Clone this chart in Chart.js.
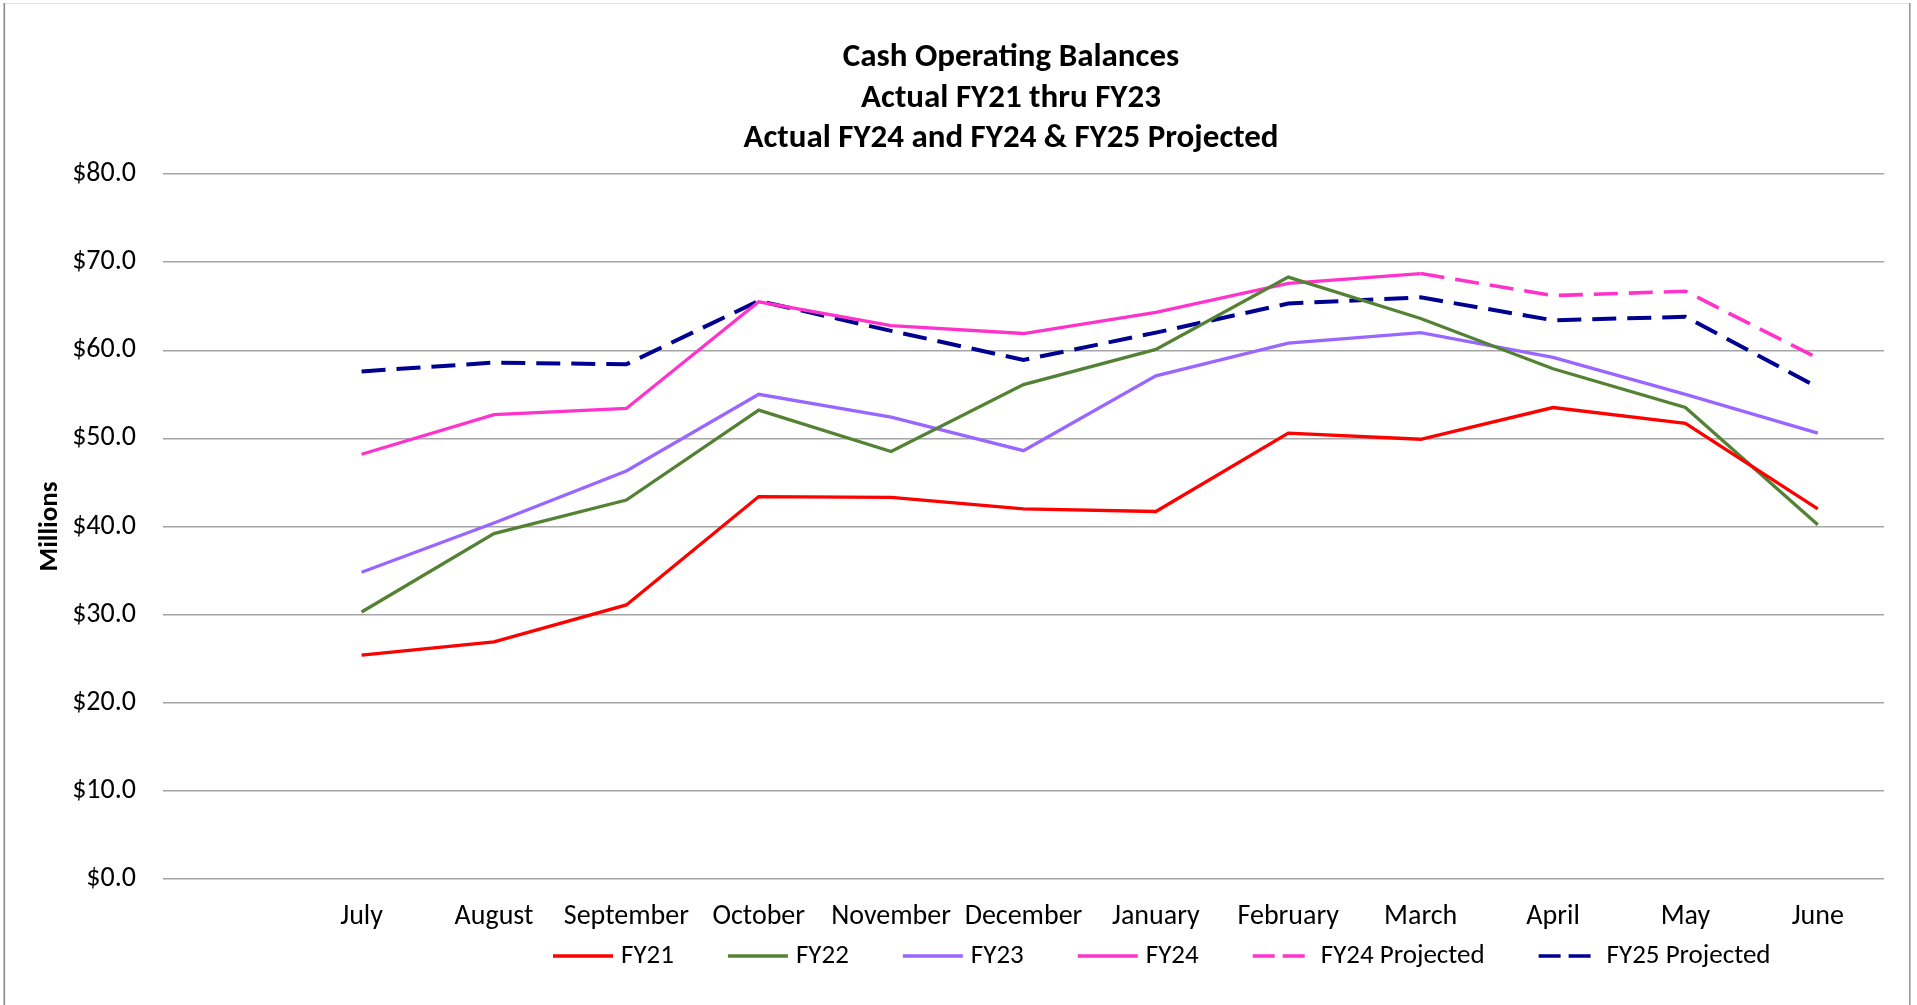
<!DOCTYPE html>
<html><head><meta charset="utf-8">
<script src="https://cdn.jsdelivr.net/npm/chart.js@4/dist/chart.umd.min.js"></script>
<style>html,body{margin:0;padding:0;background:#fff;overflow:hidden}#wrap{width:1917px;height:1005px;position:relative}</style>
</head><body><div id="wrap"><canvas id="c" width="1917" height="1005"></canvas></div>
<script>
// Categories (leading blank category as in the source sheet)
const months = ['', 'July', 'August', 'September', 'October', 'November', 'December', 'January', 'February', 'March', 'April', 'May', 'June'];
// Series values, $ millions
const fy21  = [null, 25.4, 26.9, 31.1, 43.4, 43.3, 42.0, 41.7, 50.6, 49.9, 53.5, 51.7, 42.0];
const fy22  = [null, 30.3, 39.2, 43.0, 53.2, 48.5, 56.1, 60.1, 68.3, 63.6, 57.9, 53.5, 40.2];
const fy23  = [null, 34.8, 40.4, 46.3, 55.0, 52.4, 48.6, 57.1, 60.8, 62.0, 59.2, 55.0, 50.6];
const fy24  = [null, 48.2, 52.7, 53.4, 65.5, 62.8, 61.9, 64.3, 67.6, 68.7, null, null, null];
const fy24p = [null, null, null, null, null, null, null, null, null, 68.7, 66.2, 66.7, 59.1];
const fy25p = [null, 57.6, 58.6, 58.4, 65.6, 62.2, 58.9, 62.0, 65.3, 66.0, 63.4, 63.8, 55.8];
const seriesNames = ['FY21', 'FY22', 'FY23', 'FY24', 'FY24 Projected', 'FY25 Projected'];
const titleLines = ['Cash Operating Balances', 'Actual FY21 thru FY23', 'Actual FY24 and FY24 & FY25 Projected'];
const yTitle = 'Millions';
const yMin = 0, yMax = 80, yStep = 10;

const FONT = 'Carlito, Lato, "Open Sans", sans-serif';
const colors = ['#ff0000', '#548235', '#9966ff', '#ff33cc', '#ff33cc', '#000090'];
const widths = [3.3, 3.3, 3.3, 3.3, 3.6, 4];
const dashes = [[], [], [], [], [24, 11], [24, 11]];
const allData = [fy21, fy22, fy23, fy24, fy24p, fy25p];

const deco = {
  id: 'deco',
  beforeDraw(chart) {
    const ctx = chart.ctx;
    ctx.save();
    ctx.fillStyle = '#fff';
    ctx.fillRect(0, 0, chart.width, chart.height);
    ctx.fillStyle = '#e3e3e3';
    ctx.fillRect(4, 3, 1906, 1);
    ctx.fillStyle = '#8a8a8a';
    ctx.fillRect(3.5, 3, 1.6, chart.height);
    ctx.fillStyle = '#9a9a9a';
    ctx.fillRect(1909, 3, 1.6, chart.height);
    ctx.restore();
  },
  afterDraw(chart) {
    const ctx = chart.ctx;
    ctx.save();
    // title
    ctx.fillStyle = '#000';
    ctx.font = 'bold 33px ' + FONT;
    ctx.textAlign = 'center';
    ctx.textBaseline = 'middle';
    const tx = 1011;
    titleLines.forEach((t, i) => ctx.fillText(t, tx, 58 + i * 40.5));
    // legend
    ctx.font = '27px ' + FONT;
    ctx.textAlign = 'left';
    let x = 553;
    const ly = 956;
    chart.data.datasets.forEach((ds, i) => {
      ctx.strokeStyle = ds.borderColor;
      ctx.lineWidth = 3.3;
      ctx.setLineDash(i >= 4 ? [22, 8] : []);
      ctx.beginPath();
      ctx.moveTo(x, ly);
      ctx.lineTo(x + 60, ly);
      ctx.stroke();
      ctx.setLineDash([]);
      ctx.fillStyle = '#000';
      ctx.fillText(ds.label, x + 68, ly);
      x += 68 + ctx.measureText(ds.label).width + 54;
    });
    ctx.restore();
  }
};

new Chart(document.getElementById('c'), {
  type: 'line',
  data: {
    labels: months,
    datasets: allData.map((d, i) => ({
      label: seriesNames[i],
      data: d,
      borderColor: colors[i],
      backgroundColor: colors[i],
      borderWidth: widths[i],
      borderDash: dashes[i],
      pointRadius: 0,
      tension: 0,
      fill: false,
      spanGaps: false
    }))
  },
  options: {
    responsive: false,
    animation: false,
    devicePixelRatio: 1,
    layout: { padding: { top: 174, right: 33, left: 0, bottom: 0 } },
    plugins: { legend: { display: false }, title: { display: false }, tooltip: { enabled: false } },
    scales: {
      x: {
        type: 'category',
        offset: true,
        grid: { display: false, drawTicks: false },
        border: { display: false },
        ticks: { font: { family: FONT, size: 28 }, color: '#000', padding: 21, maxRotation: 0, autoSkip: false },
        afterFit(s) { s.height = 126; }
      },
      y: {
        min: yMin, max: yMax,
        grid: { color: '#a6a6a6', lineWidth: 1.5, drawTicks: false },
        border: { display: false },
        ticks: {
          stepSize: yStep,
          font: { family: FONT, size: 28 }, color: '#000', padding: 27,
          callback: v => '$' + Number(v).toFixed(1)
        },
        title: { display: true, text: yTitle, color: '#000', font: { family: FONT, size: 27, weight: 'bold' }, padding: { top: 34, bottom: 0 } },
        afterFit(s) { s.width = 163; }
      }
    }
  },
  plugins: [deco]
});
</script></body></html>
